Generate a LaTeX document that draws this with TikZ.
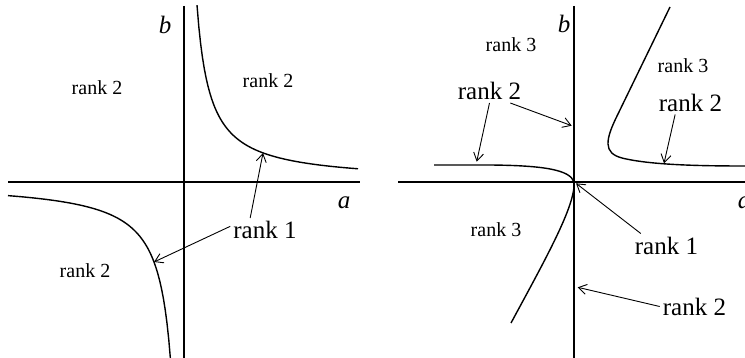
\documentclass[tikz,border=0pt]{standalone}
\usepackage{fontspec}
\setmainfont{Liberation Serif}
\usetikzlibrary{arrows.meta}
\tikzset{
    axis/.style={line width=1.2pt},
    branch/.style={line width=1.4pt},
    pointer/.style={->, line width=0.9pt},
    region/.style={font=\fontsize{20}{22}\selectfont, inner sep=0pt},
    bigrank/.style={font=\fontsize{25}{28}\selectfont, inner sep=3pt},
    axislabel/.style={font=\fontsize{25}{28}\selectfont\itshape, inner sep=0pt},
}
\begin{document}
\begin{tikzpicture}[
            x=1pt, y=-1pt,
            >={Straight Barb[length=8pt,width=10pt]}
        ]
            \useasboundingbox (0,0) rectangle (745,358);
            % left plane: axes
            \coordinate (lw) at (8,182);
            \coordinate (le) at (360,182);
            \coordinate (ln) at (184,6);
            \coordinate (ls) at (184,358);
            \draw[axis] (lw) -- (le);
            \draw[axis] (ln) -- (ls);
            \node[axislabel] (la) at (344,203) {a};
            \node[axislabel] (lb) at (165,25) {b};
            % left plane: the two branches of ab = const
            \draw[branch] plot[domain=13:174, samples=90] ({184+\x},{182-2300/\x});
            \draw[branch] plot[domain=13.4:176, samples=90] ({184-\x},{182+2400/\x});
            % left plane: labels
            \node[region] (l2nw) at (97,88) {rank 2};
            \node[region] (l2ne) at (268,81) {rank 2};
            \node[region] (l2sw) at (85,271) {rank 2};
            \node[bigrank] (l1) at (265,230) {rank 1};
            \coordinate (ltipa) at (263,153);
            \coordinate (ltipb) at (154,262);
            \draw[pointer] (l1.141) -- (ltipa);
            \draw[pointer] (l1.174) -- (ltipb);
            % right plane: axes
            \coordinate (rw) at (398,182);
            \coordinate (re) at (745,182);
            \coordinate (rn) at (574,6);
            \coordinate (rs) at (574,358);
            \draw[axis] (rw) -- (re);
            \draw[axis] (rn) -- (rs);
            \node[axislabel] (ra) at (744,203) {a};
            \node[axislabel] (rb) at (564,24) {b};
            % right plane: curves
            \draw[branch] (434,165) -- (490,165) .. controls (545,165.5) and (570,170) .. (574,182)
                .. controls (576,205) and (545,260) .. (511,323);
            \draw[branch] (670,7) -- (618,114) .. controls (605,140) and (603,153) .. (622,158)
                .. controls (650,165) and (700,166) .. (745,166);
            % right plane: labels
            \node[region] (r3nw) at (511,45) {rank 3};
            \node[region] (r3ne) at (683,66) {rank 3};
            \node[region] (r3sw) at (496,230) {rank 3};
            \node[bigrank] (r2nw) at (489.5,91) {rank 2};
            \node[bigrank] (r2ne) at (690.5,102.5) {rank 2};
            \node[bigrank] (r1) at (666.5,245.5) {rank 1};
            \node[bigrank] (r2s) at (694.5,306.5) {rank 2};
            \coordinate (rtipa) at (476.7,161.7);
            \coordinate (rtipb) at (571.7,125.7);
            \coordinate (rtipc) at (664,163.3);
            \coordinate (rtipd) at (576,183.3);
            \coordinate (rtipe) at (577.7,287.3);
            \draw[pointer] (r2nw.south) -- (rtipa);
            \draw[pointer] (r2nw.330) -- (rtipb);
            \draw[pointer] (r2ne.218) -- (rtipc);
            \draw[pointer] (r1.155) -- (rtipd);
            \draw[pointer] (r2s.west) -- (rtipe);
        \end{tikzpicture}
\end{document}
